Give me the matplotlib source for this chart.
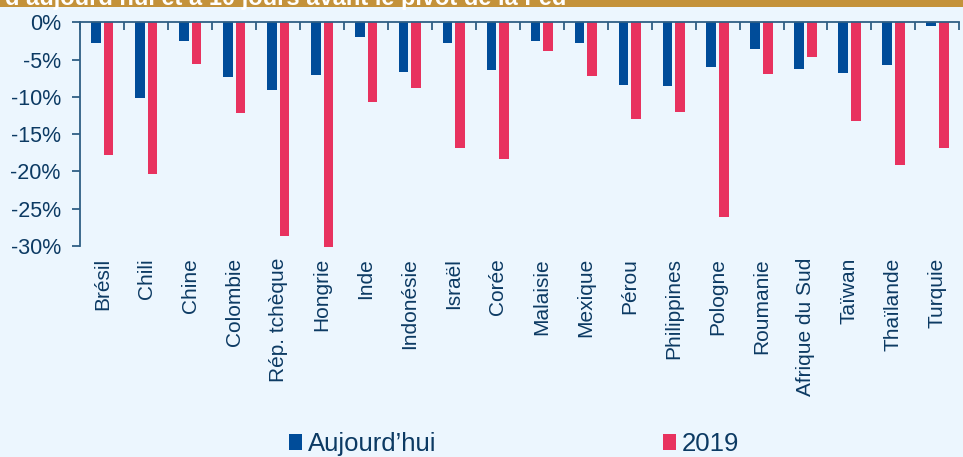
import numpy as np
import matplotlib
matplotlib.use('Agg')
import matplotlib.pyplot as plt
from matplotlib.patches import Rectangle, Patch

plt.rcParams['font.family'] = ['Liberation Sans', 'DejaVu Sans']

pays = ['Brésil', 'Chili', 'Chine', 'Colombie', 'Rép. tchèque', 'Hongrie',
        'Inde', 'Indonésie', 'Israël', 'Corée', 'Malaisie', 'Mexique',
        'Pérou', 'Philippines', 'Pologne', 'Roumanie', 'Afrique du Sud',
        'Taïwan', 'Thaïlande', 'Turquie']
aujourdhui = [-2.8, -10.15, -2.45, -7.3, -9.1, -7.1, -1.95, -6.65, -2.8, -6.35,
              -2.45, -2.8, -8.45, -8.6, -6.0, -3.6, -6.2, -6.85, -5.7, -0.45]
annee_2019 = [-17.8, -20.4, -5.55, -12.1, -28.7, -30.2, -10.7, -8.85, -16.8, -18.3,
              -3.8, -7.25, -13.0, -12.0, -26.1, -7.0, -4.65, -13.2, -19.1, -16.9]
yticks = [0, -5, -10, -15, -20, -25, -30]

BG = '#ECF6FE'
BLUE = '#004C99'
RED = '#E8325F'
GOLD = '#C4923A'
TXT = '#0C3A63'
AXC = '#2F5F85'

fig = plt.figure(figsize=(9.63, 4.57), dpi=100, facecolor=BG)
ax = fig.add_axes([80.3 / 963, 1 - 246 / 457, 879 / 963, (246 - 22.3) / 457])
ax.set_facecolor(BG)

x = np.arange(len(pays))
w = 0.22
ax.bar(x - 0.143, aujourdhui, w, color=BLUE, clip_on=False, zorder=2)
ax.bar(x + 0.145, annee_2019, w, color=RED, clip_on=False, zorder=2)

ax.set_xlim(-0.5, len(pays) - 0.5)
ax.set_ylim(-30, 0)

# axis line sits at 0 (top), with boundary ticks pointing down into the plot
for side in ['right', 'bottom']:
    ax.spines[side].set_visible(False)
for side in ['top', 'left']:
    ax.spines[side].set_color(AXC)
    ax.spines[side].set_linewidth(1.3)

ax.set_xticks(x)
ax.set_xticklabels(pays, rotation=90, fontsize=15, color=TXT, va='top', ha='center')
ax.set_xticks(np.arange(-0.5, len(pays) + 0.5, 1), minor=True)
ax.tick_params(axis='x', which='major', bottom=True, top=False, length=0, pad=8.6)
ax.tick_params(axis='x', which='minor', bottom=False, top=True, direction='in',
               length=6, width=1.3, color=AXC)

ax.set_yticks(yticks)
ax.set_yticklabels([f'{v}%' for v in yticks], fontsize=15.5, color=TXT)
ax.tick_params(axis='y', direction='out', length=6, width=1.3, color=AXC, pad=8.0)

# title band, text partly cut by the top edge
fig.patches.append(Rectangle((0, 1 - 7 / 457), 1, 7 / 457, transform=fig.transFigure,
                             facecolor=GOLD, edgecolor='none', zorder=0))
fig.text(5 / 963, 1 - 5.5 / 457, 'd’aujourd’hui et à 10 jours avant le pivot de la Fed',
         color='white', fontsize=17, fontweight='bold', va='baseline', ha='left')

handles = [Patch(facecolor=BLUE, label='Aujourd’hui'),
           Patch(facecolor=RED, label='2019')]
fig.legend(handles=handles, loc='center', bbox_to_anchor=(0.534, 1 - 444 / 457),
           ncol=2, frameon=False, fontsize=18.5, labelcolor=TXT,
           handlelength=0.5, handleheight=0.55, handletextpad=0.25,
           columnspacing=8.8, borderpad=0)

fig.savefig('out.png', dpi=100, facecolor=BG)
